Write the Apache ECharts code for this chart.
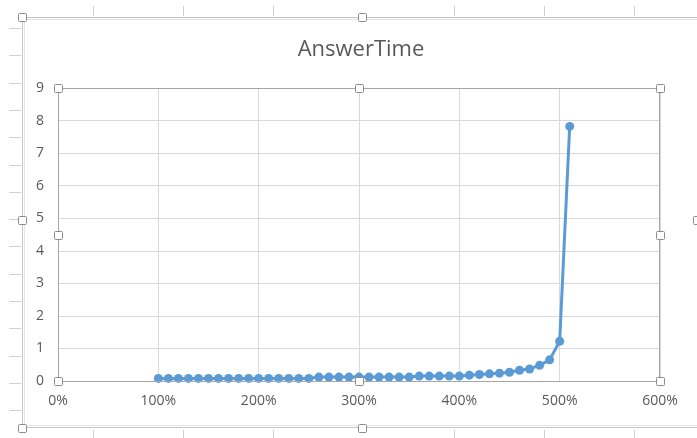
<!DOCTYPE html>
<html>
<head>
<meta charset="utf-8">
<script src="https://cdn.jsdelivr.net/npm/echarts@6/dist/echarts.min.js"></script>
<style>
html,body{margin:0;padding:0;background:#fff;}
#chart{width:697px;height:438px;}
</style>
</head>
<body>
<div id="chart"></div>
<script>
const titleText = 'AnswerTime';
const xPercent = [100,110,120,130,140,150,160,170,180,190,200,210,220,230,240,250,260,270,280,290,300,310,320,330,340,350,360,370,380,390,400,410,420,430,440,450,460,470,480,490,500,510];
const answerTime = [0.08,0.08,0.08,0.08,0.08,0.08,0.08,0.08,0.08,0.08,0.08,0.08,0.08,0.08,0.08,0.08,0.12,0.12,0.12,0.12,0.12,0.12,0.12,0.12,0.12,0.12,0.15,0.15,0.15,0.15,0.15,0.18,0.2,0.22,0.24,0.27,0.33,0.37,0.48,0.65,1.22,7.82];
const xTicks = [0,100,200,300,400,500,600];
const yTicks = [0,1,2,3,4,5,6,7,8,9];

const chart = echarts.init(document.getElementById('chart'), null, {renderer:'canvas'});

const seriesData = xPercent.map((x,i)=>[x, answerTime[i]]);

// decoration: spreadsheet grid marks and selection frames
const deco = [];
const colLines = [93,183,273,454,544,634];
colLines.forEach(x=>{
  deco.push({type:'line', shape:{x1:x+0.5,y1:6,x2:x+0.5,y2:16}, style:{stroke:'#d0d0d0',lineWidth:1}, silent:true});
  deco.push({type:'line', shape:{x1:x+0.5,y1:430,x2:x+0.5,y2:438}, style:{stroke:'#d0d0d0',lineWidth:1}, silent:true});
});
for (let y=28; y<438; y+=27.3) {
  deco.push({type:'line', shape:{x1:9,y1:Math.round(y)+0.5,x2:21,y2:Math.round(y)+0.5}, style:{stroke:'#d0d0d0',lineWidth:1}, silent:true});
}
// chart area frame
deco.push({type:'rect', shape:{x:22.5,y:17.5,width:700,height:410}, style:{fill:'none',stroke:'#c6c6c6',lineWidth:1}, silent:true});
deco.push({type:'rect', shape:{x:24.5,y:19.5,width:700,height:406}, style:{fill:'none',stroke:'#e6e6e6',lineWidth:1}, silent:true});
// plot area frame
deco.push({type:'rect', shape:{x:58.5,y:88.5,width:601,height:293}, style:{fill:'none',stroke:'#a6a6a6',lineWidth:1}, silent:true, z:10});
// handles
const handles = [[58,88],[359,88],[660,88],[58,235],[660,235],[58,381],[359,381],[660,381],
                 [22,17],[362,17],[22,220],[22,428],[362,428],[697,220]];
handles.forEach(([x,y])=>{
  deco.push({type:'rect', shape:{x:x-4+0.5,y:y-4+0.5,width:8,height:8,r:1}, style:{fill:'#fff',stroke:'#8c8c8c',lineWidth:1}, silent:true, z:20});
});
// title
deco.push({type:'text', x:361, y:50, style:{text:titleText, fontFamily:'Open Sans', fontSize:22, fill:'#595959', align:'center', verticalAlign:'middle'}, silent:true});

chart.setOption({
  animation:false,
  backgroundColor:'#fff',
  grid:{left:58, right:37, top:88, bottom:57, containLabel:false},
  xAxis:{
    type:'value', min:xTicks[0], max:xTicks[xTicks.length-1], interval:100,
    axisLine:{show:true, lineStyle:{color:'#a6a6a6'}},
    axisTick:{show:false},
    axisLabel:{formatter:'{value}%', margin:13, fontFamily:'Open Sans', fontSize:14, color:'#595959'},
    splitLine:{show:true, lineStyle:{color:'#d9d9d9', width:1}}
  },
  yAxis:{
    type:'value', min:yTicks[0], max:yTicks[yTicks.length-1], interval:1,
    axisLine:{show:true, lineStyle:{color:'#a6a6a6'}},
    axisTick:{show:false},
    axisLabel:{margin:14, fontFamily:'Open Sans', fontSize:14, color:'#595959'},
    splitLine:{show:true, lineStyle:{color:'#d9d9d9', width:1}}
  },
  series:[{
    type:'line', data:seriesData,
    symbol:'circle', symbolSize:9,
    lineStyle:{color:'#5B9BD5', width:3},
    itemStyle:{color:'#5B9BD5'},
    z:5
  }],
  graphic:deco
});
</script>
</body>
</html>
